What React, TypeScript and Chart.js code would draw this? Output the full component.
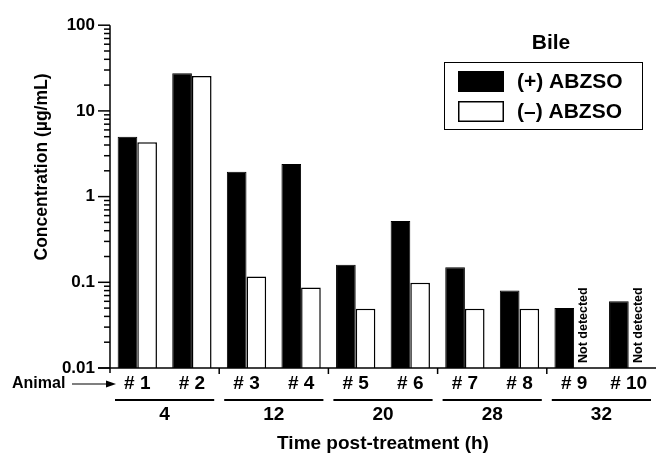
import React, { useEffect, useRef } from 'react';
import { Chart, registerables } from 'chart.js';

Chart.register(...registerables);

// ---------- data ----------
const animals = ['# 1', '# 2', '# 3', '# 4', '# 5', '# 6', '# 7', '# 8', '# 9', '# 10'];
const timeGroups = ['4', '12', '20', '28', '32'];
const plusABZSO = [5.0, 27.5, 1.95, 2.4, 0.16, 0.52, 0.15, 0.08, 0.05, 0.06];
const minusABZSO: (number | null)[] = [4.3, 25.5, 0.117, 0.087, 0.049, 0.099, 0.049, 0.049, null, null];
const yTickLabels = ['0.01', '0.1', '1', '10', '100'];
const seriesNames = ['(+) ABZSO', '(\u2013) ABZSO'];
const legendTitle = 'Bile';
const notDetectedText = 'Not detected';
const animalLabel = 'Animal';
const xTitle = 'Time post-treatment (h)';
const yTitle = 'Concentration (\u00b5g/mL)';

const FONT = '"Liberation Sans", Arial, Helvetica, sans-serif';

function seg(ctx: CanvasRenderingContext2D, x1: number, y1: number, x2: number, y2: number) {
  ctx.beginPath();
  ctx.moveTo(x1, y1);
  ctx.lineTo(x2, y2);
  ctx.stroke();
}

const decor = {
  id: 'decor',
  afterDraw(chart: any) {
    const ctx: CanvasRenderingContext2D = chart.ctx;
    const ys = chart.scales.y;
    const area = chart.chartArea;
    ctx.save();
    ctx.strokeStyle = '#000';
    ctx.fillStyle = '#000';
    ctx.lineWidth = 1.5;

    // axis lines
    seg(ctx, area.left, area.top, area.left, area.bottom + 5);
    seg(ctx, area.left - 12, area.bottom, area.right, area.bottom);

    // y ticks (major + minor)
    for (let e = -2; e <= 2; e++) {
      for (let m = 1; m <= 9; m++) {
        const v = m * Math.pow(10, e);
        if (v > ys.max * 1.0001 || v < ys.min * 0.9999) continue;
        const py = ys.getPixelForValue(v);
        const len = m === 1 ? 12 : 6;
        seg(ctx, area.left - len, py, area.left, py);
      }
    }

    // x group boundary ticks, group lines and labels
    const n = animals.length;
    const cw = (area.right - area.left) / n;
    for (let g = 1; g < timeGroups.length; g++) {
      const bx = area.left + 2 * g * cw;
      seg(ctx, bx, area.bottom, bx, area.bottom + 6);
    }
    ctx.lineWidth = 2;
    ctx.font = `bold 19px ${FONT}`;
    ctx.textAlign = 'center';
    ctx.textBaseline = 'middle';
    for (let g = 0; g < timeGroups.length; g++) {
      const bx = area.left + 2 * g * cw;
      seg(ctx, bx + 5, area.bottom + 32, bx + 2 * cw - 5, area.bottom + 32);
      ctx.fillText(timeGroups[g], bx + cw, area.bottom + 47);
    }

    // x title
    ctx.font = `bold 19px ${FONT}`;
    ctx.fillText(xTitle, (area.left + area.right) / 2, area.bottom + 76);

    // y title
    ctx.save();
    ctx.translate(42, 167);
    ctx.rotate(-Math.PI / 2);
    ctx.font = `bold 17.5px ${FONT}`;
    ctx.fillText(yTitle, 0, 0);
    ctx.restore();

    // Animal label and arrow
    ctx.font = `bold 16px ${FONT}`;
    ctx.textAlign = 'left';
    ctx.fillText(animalLabel, 12, area.bottom + 16);
    ctx.lineWidth = 1.2;
    seg(ctx, 72, area.bottom + 16, 110, area.bottom + 16);
    ctx.beginPath();
    ctx.moveTo(116, area.bottom + 16);
    ctx.lineTo(106, area.bottom + 12.5);
    ctx.lineTo(106, area.bottom + 19.5);
    ctx.closePath();
    ctx.fill();

    // Not detected labels
    const meta0 = chart.getDatasetMeta(0);
    ctx.font = `bold 12.5px ${FONT}`;
    for (let i = 0; i < minusABZSO.length; i++) {
      if (minusABZSO[i] !== null) continue;
      const el = meta0.data[i];
      const bx = el.x + el.width;
      ctx.save();
      ctx.translate(bx, area.bottom - 5);
      ctx.rotate(-Math.PI / 2);
      ctx.textAlign = 'left';
      ctx.textBaseline = 'middle';
      ctx.fillText(notDetectedText, 0, 0);
      ctx.restore();
    }

    // legend
    ctx.lineWidth = 1;
    ctx.strokeRect(444.5, 62.5, 198, 67);
    ctx.font = `bold 21px ${FONT}`;
    ctx.textAlign = 'center';
    ctx.fillText(legendTitle, 551, 43);
    const ds = chart.data.datasets;
    ctx.textAlign = 'left';
    for (let i = 0; i < ds.length; i++) {
      const top = 71 + i * 30;
      ctx.fillStyle = ds[i].backgroundColor;
      ctx.fillRect(458, top, 46, 21);
      ctx.strokeStyle = ds[i].borderColor;
      ctx.lineWidth = 1.5;
      ctx.strokeRect(458.75, top + 0.75, 44.5, 19.5);
      ctx.fillStyle = '#000';
      ctx.fillText(ds[i].label, 517, top + 11);
    }
    ctx.restore();
  },
};

export default function App() {
  const ref = useRef<HTMLCanvasElement | null>(null);
  useEffect(() => {
    if (!ref.current) return;
    const chart = new Chart(ref.current, {
      type: 'bar',
      data: {
        labels: animals,
        datasets: [
          {
            label: seriesNames[0],
            data: plusABZSO,
            backgroundColor: '#000',
            borderColor: '#000',
            borderWidth: 1,
            categoryPercentage: 0.72,
            barPercentage: 1.0,
          },
          {
            label: seriesNames[1],
            data: minusABZSO,
            backgroundColor: '#fff',
            borderColor: '#000',
            borderWidth: 1.5,
            categoryPercentage: 0.72,
            barPercentage: 1.0,
          },
        ],
      },
      options: {
        responsive: false,
        animation: false,
        layout: { padding: { top: 22, right: 0, left: 0, bottom: 0 } },
        plugins: { legend: { display: false }, tooltip: { enabled: false } },
        scales: {
          x: {
            grid: { display: false, drawTicks: false },
            border: { display: false },
            ticks: {
              color: '#000',
              font: { family: FONT, size: 19, weight: 'bold' },
              padding: 4,
              maxRotation: 0,
              autoSkip: false,
            },
            afterFit: (s: any) => { s.height = 88; },
          },
          y: {
            type: 'logarithmic',
            min: 0.01,
            max: 100,
            grid: { display: false, drawTicks: false },
            border: { display: false },
            ticks: {
              color: '#000',
              font: { family: FONT, size: 17, weight: 'bold' },
              padding: 15,
              autoSkip: false,
              callback: (value: any) => {
                const l = Math.log10(Number(value));
                const r = Math.round(l);
                if (Math.abs(l - r) < 1e-6 && r >= -2 && r <= 2) return yTickLabels[r + 2];
                return '';
              },
            },
            afterFit: (s: any) => { s.width = 110; },
          },
        },
      },
      plugins: [decor],
    } as any);
    return () => chart.destroy();
  }, []);
  return (
    <div style={{ position: 'absolute', left: 0, top: 0, width: 656, height: 456, background: '#fff' }}>
      <canvas ref={ref} width={656} height={456} style={{ width: 656, height: 456, display: 'block' }} />
    </div>
  );
}
